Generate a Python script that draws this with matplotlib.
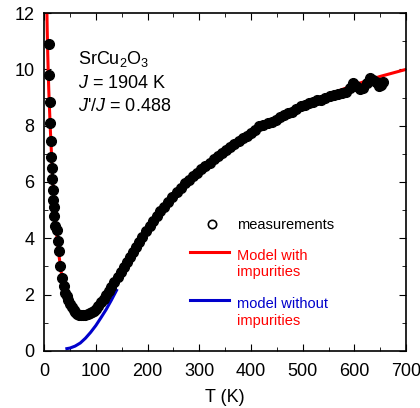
import matplotlib
matplotlib.use("Agg")
import matplotlib.pyplot as plt
from matplotlib.ticker import MultipleLocator

plt.rcParams['font.family'] = ['Liberation Sans', 'DejaVu Sans']
plt.rcParams['mathtext.fontset'] = 'custom'
plt.rcParams['mathtext.rm'] = 'Liberation Sans'
plt.rcParams['mathtext.it'] = 'Liberation Sans:italic'

T_meas = [9, 10, 11, 12, 13, 14, 15, 16, 17, 18, 19, 20, 22, 24, 26, 28, 31, 35, 38,
          41, 44, 47, 51, 54, 57, 60, 64, 68, 72, 76, 80, 84, 88, 92, 96, 100,
          105, 110, 115, 120, 125, 130, 136, 142, 148, 154, 160, 166, 172, 178,
          184, 190, 197, 204, 211, 218, 225, 232, 240, 248, 256, 264, 272, 280,
          288, 296, 304, 312, 320, 328, 336, 344, 352, 360, 368, 376, 384, 392,
          400, 408, 416, 424, 432, 440, 448, 456, 464, 472, 480, 488, 496, 504,
          512, 520, 528, 536, 544, 552, 560, 568, 576, 584, 592, 598, 604, 610,
          617, 624, 630, 636, 642, 648, 652, 655]
chi_meas = [10.9, 9.8, 8.85, 8.1, 7.45, 6.9, 6.5, 6.1, 5.7, 5.35, 5.1, 4.8, 4.45, 4.3, 3.9,
            3.55, 3.0, 2.6, 2.3, 2.05, 1.95, 1.8, 1.65, 1.55, 1.45, 1.38, 1.32, 1.29,
            1.27, 1.27, 1.28, 1.3, 1.34, 1.38, 1.43, 1.5, 1.6, 1.72, 1.85, 1.98, 2.12,
            2.28, 2.45, 2.62, 2.8, 2.98, 3.17, 3.35, 3.52, 3.7, 3.88, 4.05, 4.25, 4.45,
            4.62, 4.8, 4.97, 5.12, 5.3, 5.47, 5.63, 5.8, 5.95, 6.08, 6.2, 6.33, 6.45,
            6.57, 6.68, 6.8, 6.92, 7.03, 7.13, 7.25, 7.35, 7.45, 7.55, 7.65, 7.73, 7.85,
            7.98, 8.02, 8.1, 8.14, 8.2, 8.3, 8.38, 8.45, 8.5, 8.58, 8.7, 8.72, 8.8,
            8.85, 8.9, 8.92, 8.98, 9.05, 9.1, 9.12, 9.15, 9.2, 9.35, 9.5, 9.42, 9.3,
            9.35, 9.5, 9.68, 9.62, 9.55, 9.4, 9.45, 9.55]

# model with impurities (red)
T_red = [5, 6, 7, 8, 9, 10, 12, 14, 16, 18, 21, 24, 28, 33, 40, 48, 56, 65, 75, 85,
         95, 105, 115, 130, 150, 170, 200, 250, 300, 350, 400, 450, 500, 550, 600,
         650, 700]
chi_red = [12.5, 11.4, 10.6, 9.9, 9.3, 8.8, 7.9, 7.1, 6.3, 5.6, 4.9, 4.2, 3.5, 2.8,
           2.2, 1.75, 1.5, 1.35, 1.3, 1.33, 1.45, 1.62, 1.82, 2.2, 2.75, 3.35, 4.25,
           5.5, 6.45, 7.2, 7.8, 8.3, 8.75, 9.1, 9.45, 9.75, 10.0]

# model without impurities (blue)
T_blue = [44, 50, 60, 70, 80, 90, 100, 110, 120, 130, 140]
chi_blue = [0.08, 0.1, 0.17, 0.28, 0.45, 0.66, 0.9, 1.18, 1.47, 1.8, 2.15]

fig = plt.figure(figsize=(4.2, 4.08), dpi=100)
ax = fig.add_axes([0.105, 0.14, 0.862, 0.828])

ax.plot(T_blue, chi_blue, color='#0000cc', lw=2.2, zorder=2)
ax.plot(T_red, chi_red, color='red', lw=2.2, zorder=2)
ax.plot(T_meas, chi_meas, 'o', color='black', ms=7, zorder=3)

ax.set_xlim(0, 700)
ax.set_ylim(0, 12)
ax.xaxis.set_major_locator(MultipleLocator(100))
ax.xaxis.set_minor_locator(MultipleLocator(50))
ax.yaxis.set_major_locator(MultipleLocator(2))
ax.yaxis.set_minor_locator(MultipleLocator(1))
ax.tick_params(which='both', direction='in', top=True, right=True, labelsize=13)
ax.tick_params(which='major', length=5)
ax.tick_params(which='minor', length=3)
ax.tick_params(axis='x', pad=9)
ax.tick_params(axis='y', pad=7)
for s in ax.spines.values():
    s.set_linewidth(1.2)
ax.set_xlabel('T (K)', fontsize=13, labelpad=6.5)

ax.text(0.095, 0.85, 'SrCu$_2$O$_3$', transform=ax.transAxes, fontsize=13)
ax.text(0.095, 0.778, '$J$ = 1904 K', transform=ax.transAxes, fontsize=13)
ax.text(0.095, 0.71, "$J$'/$J$ = 0.488", transform=ax.transAxes, fontsize=13)

# legend drawn by hand
ax.plot([0.463], [0.376], 'o', mfc='white', mec='black', ms=6, mew=1.2,
        transform=ax.transAxes)
ax.text(0.533, 0.373, 'measurements', transform=ax.transAxes, fontsize=10.5,
        va='center')
ax.plot([0.403, 0.51], [0.293, 0.293], color='red', lw=2.2, transform=ax.transAxes)
ax.text(0.533, 0.281, 'Model with', transform=ax.transAxes, fontsize=10.5,
        va='center', color='red')
ax.text(0.533, 0.234, 'impurities', transform=ax.transAxes, fontsize=10.5,
        va='center', color='red')
ax.plot([0.403, 0.51], [0.151, 0.151], color='#0000cc', lw=2.2, transform=ax.transAxes)
ax.text(0.533, 0.139, 'model without', transform=ax.transAxes, fontsize=10.5,
        va='center', color='#0000cc')
ax.text(0.533, 0.089, 'impurities', transform=ax.transAxes, fontsize=10.5,
        va='center', color='red')

fig.savefig('out.png', dpi=100)
